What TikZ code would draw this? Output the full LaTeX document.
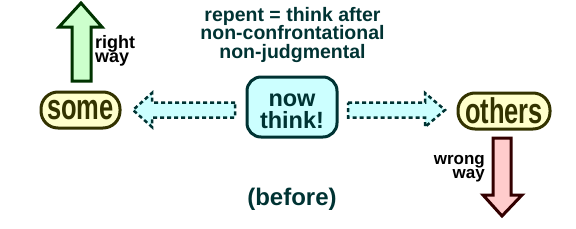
\documentclass[tikz,border=0pt]{standalone}
\usepackage{fontspec}
\setmainfont{Liberation Sans}
\usepackage{graphicx}
\definecolor{tealtxt}{RGB}{0,51,51}
\definecolor{olive}{RGB}{51,51,0}
\definecolor{paleyellow}{RGB}{255,255,204}
\definecolor{palegreen}{RGB}{204,255,204}
\definecolor{darkgreen}{RGB}{0,51,0}
\definecolor{palered}{RGB}{255,204,204}
\definecolor{darkred}{RGB}{51,0,0}
\definecolor{palecyan}{RGB}{204,255,255}
\tikzset{
  pill/.style={draw=olive, fill=paleyellow, line width=3pt, rounded corners=17pt,
    minimum height=36pt, inner sep=0pt, text=olive,
    font=\fontsize{25.5}{26}\selectfont\bfseries},
  thinkbox/.style={draw=tealtxt, fill=palecyan, line width=3pt, rounded corners=14pt,
    minimum width=90pt, minimum height=60pt, inner sep=0pt},
  dasharrow/.style={draw=tealtxt, fill=palecyan, line width=2.5pt, dash pattern=on 4pt off 3pt},
  uparrow/.style={draw=darkgreen, fill=palegreen, line width=3pt},
  downarrow/.style={draw=darkred, fill=palered, line width=3pt},
  smalltxt/.style={inner sep=0pt, font=\fontsize{18}{14.5}\selectfont\bfseries},
}
\begin{document}
\begin{tikzpicture}[x=1pt,y=-1pt]
\useasboundingbox (0,0) rectangle (576,228);
% top text
\node[anchor=north, align=center, inner sep=0pt, text=tealtxt,
  font=\fontsize{19.5}{18.5}\selectfont\bfseries] (def) at (292.5,7)
  {repent = think after\\non-confrontational\\non-judgmental};
% block arrows
\draw[uparrow] (72,81) -- (72,27) -- (59,27) -- (81,3) -- (102,27) -- (91,27) -- (91,81) -- cycle;
\draw[downarrow] (493,138) -- (511,138) -- (511,195) -- (522,195) -- (502,216) -- (483,195) -- (493,195) -- cycle;
\draw[dasharrow] (235,102.5) -- (152,102.5) -- (152,93) -- (133,110) -- (152,127) -- (152,117.5) -- (235,117.5) -- cycle;
\draw[dasharrow] (348,102.5) -- (425,102.5) -- (425,93) -- (445,110) -- (425,127) -- (425,117.5) -- (348,117.5) -- cycle;
% nodes
\node[pill, minimum width=79pt] (some) at (80.5,110) {\scalebox{1}[1.4]{some}};
\node[pill, minimum width=92pt] (others) at (504,111) {\scalebox{1}[1.4]{others}};
\node[thinkbox] (think) at (292,107) {};
\node[align=center, inner sep=0pt, text=tealtxt, yshift=-4.5pt,
  font=\fontsize{23.5}{22}\selectfont\bfseries] (thinktxt) at (think.center) {now\\think!};
% side labels
\node[smalltxt, anchor=north west, align=left] (right) at (95,35) {right\\way};
\node[smalltxt, anchor=north east, align=right, font=\fontsize{17}{14.5}\selectfont\bfseries] (wrong) at (485,155) {wrong\\way};
% bottom
\node[inner sep=0pt, text=tealtxt, font=\fontsize{24}{26}\selectfont\bfseries] (before) at (292,199) {(before)};
\end{tikzpicture}
\end{document}
